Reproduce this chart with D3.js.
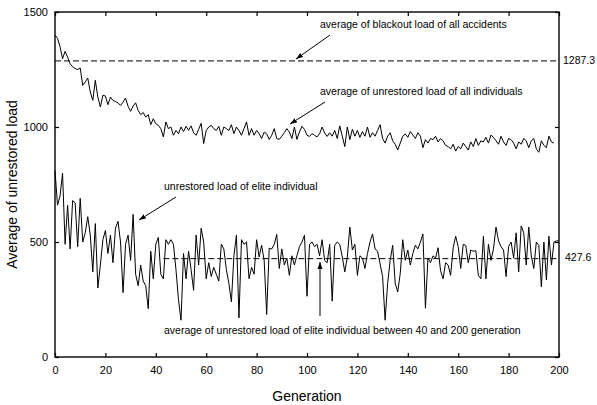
<!DOCTYPE html>
<html>
<head>
<meta charset="utf-8">
<script src="https://cdn.jsdelivr.net/npm/d3@7"></script>
<style>
  body { margin: 0; background: #fff; }
  svg { font-family: Arial, "Liberation Sans", Helvetica, sans-serif; }
</style>
</head>
<body>
<div id="chart"></div>
<script>
// average unrestored load of all individuals, generation 0..198
const allIndividuals = [
  1400, 1385, 1350, 1297, 1329, 1304, 1275, 1262, 1254, 1250,
  1257, 1181, 1196, 1213, 1152, 1116, 1203, 1130, 1087, 1138,
  1135, 1097, 1130, 1116, 1111, 1105, 1094, 1108, 1126, 1090,
  1068, 1091, 1105, 1072, 1054, 1063, 1043, 1054, 1010, 1036,
  1014, 1007, 993, 957, 1022, 993, 1000, 964, 985, 971,
  1000, 980, 1003, 985, 1005, 975, 964, 990, 1016, 928,
  985, 1000, 1007, 993, 985, 1003, 964, 1000, 993, 985,
  1010, 971, 1000, 985, 964, 993, 1022, 964, 993, 964,
  985, 971, 950, 978, 970, 946, 964, 993, 950, 946,
  960, 975, 993, 978, 950, 1000, 946, 978, 1003, 990,
  964, 959, 971, 964, 957, 971, 1000, 974, 959, 975,
  960, 985, 950, 1005, 960, 915, 1000, 945, 990, 960,
  985, 955, 980, 960, 1000, 955, 975, 960, 985, 1010,
  950, 930, 960, 975, 940, 925, 900, 930, 960, 970,
  955, 980, 965, 950, 975, 960, 910, 945, 930, 950,
  945, 960, 935, 950, 940, 920, 915, 905, 925, 895,
  915, 905, 930, 915, 900, 935, 915, 950, 920, 940,
  935, 955, 930, 965, 955, 940, 925, 960, 935, 920,
  950, 945, 930, 905, 935, 925, 950, 940, 910, 940,
  950, 905, 890, 940, 920, 910, 960, 935, 930
];

// unrestored load of the elite individual, generation 0..200
const eliteIndividual = [
  810, 660, 700, 800, 490, 660, 470, 680, 670, 480,
  690, 500, 540, 610, 530, 370, 580, 300, 400, 510,
  550, 450, 530, 410, 560, 590, 500, 280, 490, 530,
  420, 620, 360, 310, 400, 330, 310, 210, 460, 340,
  490, 520, 360, 340, 510, 490, 510, 490, 380, 250,
  160, 450, 340, 460, 380, 290, 530, 400, 560, 500,
  340, 410, 350, 390, 360, 330, 490, 470, 380, 320,
  240, 440, 530, 170, 510, 490, 500, 340, 390, 360,
  510, 435, 486, 420, 185, 473, 470, 490, 533, 385,
  470, 400, 430, 355, 440, 400, 440, 480, 500, 530,
  264, 490, 500, 480, 490, 440, 510, 420, 410, 490,
  243, 486, 500, 490, 435, 370, 435, 565, 465, 490,
  355, 440, 430, 385, 450, 500, 535, 470, 460, 405,
  350, 160, 320, 420, 486, 320, 283, 363, 510, 420,
  465, 400, 450, 486, 470, 500, 535, 212, 430, 410,
  440, 430, 475, 375, 340, 410, 400, 355, 475, 525,
  480, 385, 490, 485, 410, 465, 460, 462, 355, 340,
  525, 340, 490, 420, 470, 565, 505, 480, 465, 350,
  480, 500, 430, 540, 370, 570, 540, 400, 565, 440,
  385, 500, 485, 305, 500, 335, 525, 400, 500, 505,
  505
];

const blackoutAvg = 1287.3;
const eliteAvg = 427.6;
const eliteAvgRange = [43, 200];

const xTicks = [0, 20, 40, 60, 80, 100, 120, 140, 160, 180, 200];
const yTicks = [0, 500, 1000, 1500];

const width = 597;
const height = 405;
const margin = { top: 12, right: 38, bottom: 48, left: 55 };

const svg = d3.select("#chart")
  .append("svg")
  .attr("width", width)
  .attr("height", height);

const x = d3.scaleLinear()
  .domain([0, 200])
  .range([margin.left, width - margin.right]);

const y = d3.scaleLinear()
  .domain([0, 1500])
  .range([height - margin.bottom, margin.top]);

// 刻度 (ticks point inward on all four sides)
svg.append("g")
  .attr("transform", `translate(0,${height - margin.bottom})`)
  .call(d3.axisBottom(x).tickValues(xTicks).tickFormat(d3.format("d")).tickSizeInner(-4).tickSizeOuter(0).tickPadding(9))
  .call(g => g.select(".domain").remove())
  .selectAll("text")
  .attr("font-size", 11)
  .attr("fill", "#000");

svg.append("g")
  .attr("transform", `translate(0,${margin.top})`)
  .call(d3.axisTop(x).tickValues(xTicks).tickSizeInner(-4).tickSizeOuter(0).tickFormat(""))
  .call(g => g.select(".domain").remove());

svg.append("g")
  .attr("transform", `translate(${margin.left},0)`)
  .call(d3.axisLeft(y).tickValues(yTicks).tickFormat(d3.format("d")).tickSizeInner(-4).tickSizeOuter(0).tickPadding(7))
  .call(g => g.select(".domain").remove())
  .selectAll("text")
  .attr("font-size", 11)
  .attr("fill", "#000");

svg.append("g")
  .attr("transform", `translate(${width - margin.right},0)`)
  .call(d3.axisRight(y).tickValues(yTicks).tickSizeInner(-4).tickSizeOuter(0).tickFormat(""))
  .call(g => g.select(".domain").remove());

svg.selectAll(".tick line").attr("stroke", "#000").attr("stroke-width", 1.2);

// frame
svg.append("rect")
  .attr("x", margin.left)
  .attr("y", margin.top)
  .attr("width", width - margin.left - margin.right)
  .attr("height", height - margin.top - margin.bottom)
  .attr("fill", "none")
  .attr("stroke", "#000")
  .attr("stroke-width", 1.4);

// dashed average lines
svg.append("line")
  .attr("x1", x(0)).attr("x2", x(200))
  .attr("y1", y(blackoutAvg)).attr("y2", y(blackoutAvg))
  .attr("stroke", "#000").attr("stroke-width", 1)
  .attr("stroke-dasharray", "6,3");

svg.append("line")
  .attr("x1", x(eliteAvgRange[0])).attr("x2", x(eliteAvgRange[1]))
  .attr("y1", y(eliteAvg)).attr("y2", y(eliteAvg))
  .attr("stroke", "#000").attr("stroke-width", 1)
  .attr("stroke-dasharray", "6,3");

// series lines
const line = d3.line()
  .x((d, i) => x(i))
  .y(d => y(d));

svg.append("path")
  .datum(allIndividuals)
  .attr("d", line)
  .attr("fill", "none")
  .attr("stroke", "#000")
  .attr("stroke-width", 1);

svg.append("path")
  .datum(eliteIndividual)
  .attr("d", line)
  .attr("fill", "none")
  .attr("stroke", "#000")
  .attr("stroke-width", 1);

// right side value labels
svg.append("text")
  .attr("x", width - margin.right + 4)
  .attr("y", y(blackoutAvg))
  .attr("dominant-baseline", "middle")
  .attr("font-size", 10.5)
  .text(blackoutAvg.toFixed(1));

svg.append("text")
  .attr("x", width - margin.right + 6)
  .attr("y", y(eliteAvg))
  .attr("dominant-baseline", "middle")
  .attr("font-size", 10.5)
  .text(eliteAvg.toFixed(1));

// 箭頭
svg.append("defs").append("marker")
  .attr("id", "arrow")
  .attr("viewBox", "0 0 10 10")
  .attr("refX", 10).attr("refY", 5)
  .attr("markerWidth", 7).attr("markerHeight", 7)
  .attr("orient", "auto")
  .append("path")
  .attr("d", "M0,1.5 L10,5 L0,8.5 Z")
  .attr("fill", "#000");

const annotations = [
  { text: "average of blackout load of all accidents", tx: 320, ty: 28, from: [330, 35], to: [296, 59] },
  { text: "average of unrestored load of all individuals", tx: 320, ty: 95, from: [325, 102], to: [290, 124] },
  { text: "unrestored load of elite individual", tx: 164, ty: 190, from: [176, 197], to: [139, 220] },
  { text: "average of unrestored load of elite individual between 40 and 200 generation", tx: 164, ty: 334, from: [320, 316], to: [320, 262] }
];

annotations.forEach(a => {
  svg.append("text")
    .attr("x", a.tx)
    .attr("y", a.ty)
    .attr("font-size", 10.5)
    .text(a.text);
  svg.append("line")
    .attr("x1", a.from[0]).attr("y1", a.from[1])
    .attr("x2", a.to[0]).attr("y2", a.to[1])
    .attr("stroke", "#000").attr("stroke-width", 1)
    .attr("marker-end", "url(#arrow)");
});

// axis titles
svg.append("text")
  .attr("x", (margin.left + width - margin.right) / 2)
  .attr("y", 401)
  .attr("text-anchor", "middle")
  .attr("font-size", 14)
  .text("Generation");

svg.append("text")
  .attr("transform", `translate(17,${(margin.top + height - margin.bottom) / 2}) rotate(-90)`)
  .attr("text-anchor", "middle")
  .attr("font-size", 14)
  .text("Average of unrestored load");
</script>
</body>
</html>
